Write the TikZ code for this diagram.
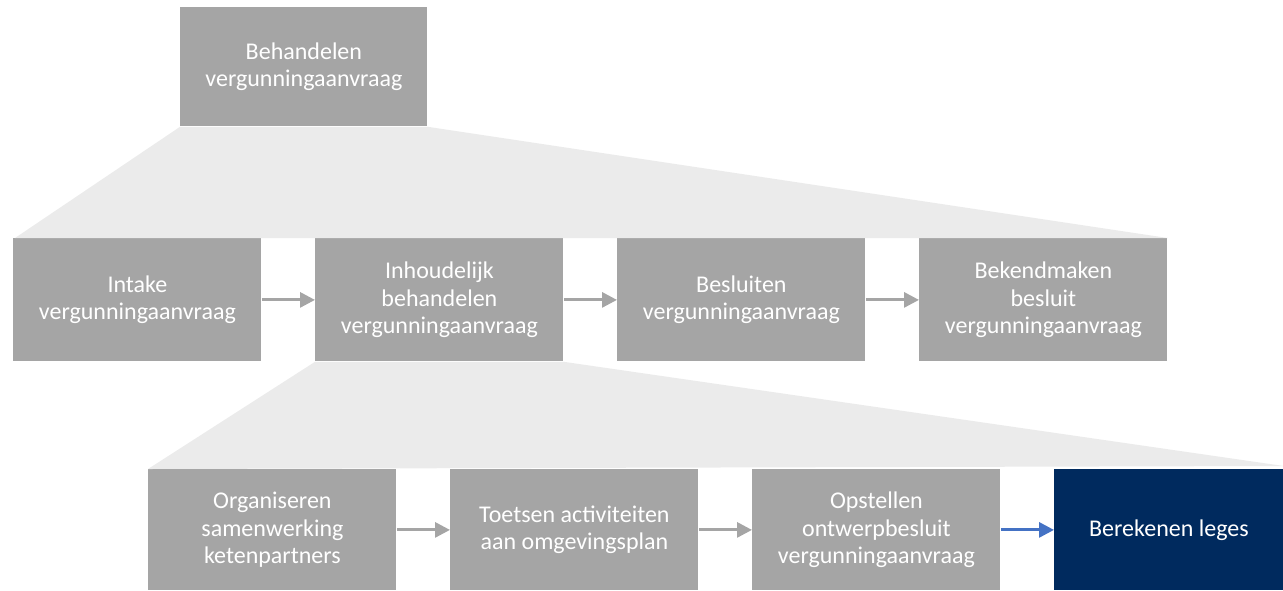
\documentclass[tikz,border=0pt]{standalone}
\usepackage{fontspec}
\setmainfont{Carlito}
\usetikzlibrary{arrows.meta}
\definecolor{boxgray}{HTML}{A5A5A5}
\definecolor{fangray}{HTML}{EBEBEB}
\definecolor{navy}{HTML}{002A5E}
\definecolor{flowblue}{HTML}{4472C4}
\begin{document}
\begin{tikzpicture}[x=0.5pt,y=-0.5pt,
  box/.style={fill=boxgray,text=white,anchor=north west,inner sep=0pt,align=center,
    minimum width=124pt,minimum height=61pt,font=\fontsize{12}{13.75}\selectfont},
  active/.style={box,fill=navy,minimum width=114.5pt},
  flow/.style={draw=boxgray,line width=1.5pt,-{Triangle[length=7.5pt,width=7.5pt]}},
  bflow/.style={flow,draw=flowblue,fill=flowblue}]
\useasboundingbox (0,0) rectangle (1283,590);
\node [box,minimum width=123.5pt,minimum height=59.5pt] (beh) at (180,7) {Behandelen\\vergunningaanvraag};
\node [box,minimum height=61.5pt] (int) at (13,238) {Intake\\vergunningaanvraag};
\node [box,minimum height=61.5pt] (inh) at (315,238) {Inhoudelijk\\behandelen\\vergunningaanvraag};
\node [box,minimum height=61.5pt] (bes) at (617,238) {Besluiten\\vergunningaanvraag};
\node [box,minimum height=61.5pt] (bek) at (919,238) {Bekendmaken\\besluit\\vergunningaanvraag};
\node [box,minimum height=60.5pt] (org) at (148,469) {Organiseren\\samenwerking\\ketenpartners};
\node [box,minimum height=60.5pt] (toe) at (450,469) {Toetsen activiteiten\\aan omgevingsplan};
\node [box,minimum height=60.5pt] (ops) at (752,469) {Opstellen\\ontwerpbesluit\\vergunningaanvraag};
\node [active,minimum height=60.5pt] (ber) at (1054,469) {Berekenen leges};
\begin{scope}[on background layer/.try]
\fill [fangray] (beh.south west) -- (beh.south east) -- (bek.north east) -- ([xshift=1pt]int.north west) -- cycle;
\fill [fangray] (inh.south west) -- (inh.south east) -- ([yshift=1.5pt]ber.north east) -- (org.north west) -- cycle;
\end{scope}
\draw [flow] (int) -- (inh);
\draw [flow] (inh) -- (bes);
\draw [flow] (bes) -- (bek);
\draw [flow] (org) -- (toe);
\draw [flow] (toe) -- (ops);
\draw [bflow] (ops) -- (ber);
\end{tikzpicture}
\end{document}
